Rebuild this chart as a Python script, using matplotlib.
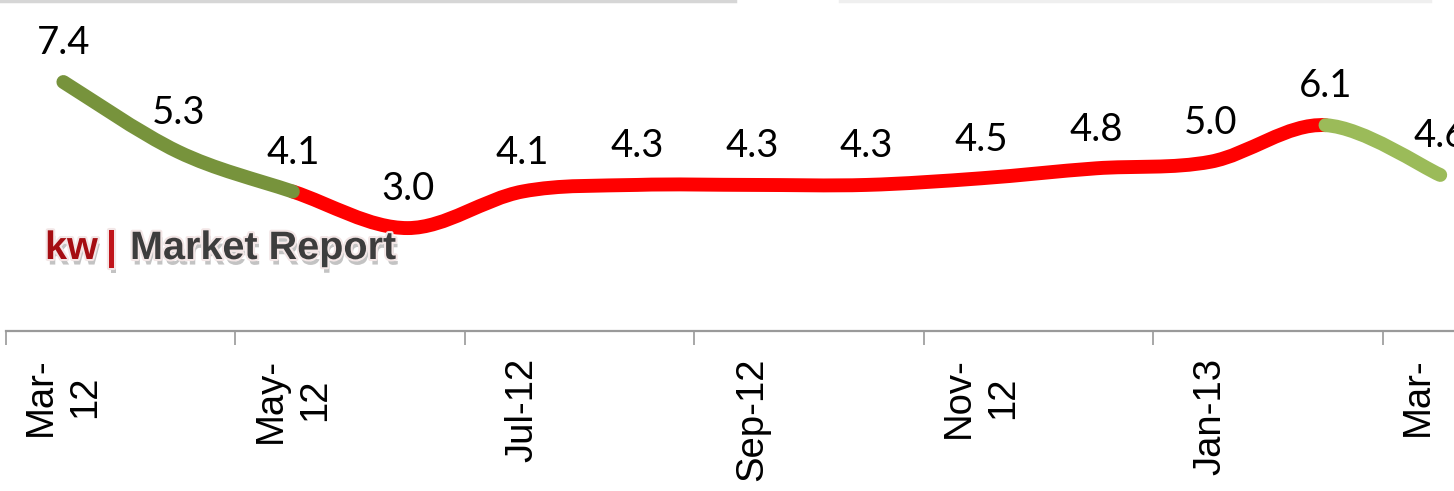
import matplotlib
matplotlib.use("Agg")
import matplotlib.pyplot as plt
from matplotlib.path import Path
from matplotlib.patches import PathPatch
from matplotlib.lines import Line2D
from matplotlib.transforms import Bbox
import matplotlib.patheffects as pe

# ---- data ----
months = ["Mar-12", "Apr-12", "May-12", "Jun-12", "Jul-12", "Aug-12", "Sep-12",
          "Oct-12", "Nov-12", "Dec-12", "Jan-13", "Feb-13", "Mar-13"]
values = [7.4, 5.3, 4.1, 3.0, 4.1, 4.3, 4.3, 4.3, 4.5, 4.8, 5.0, 6.1, 4.6]
tick_labels = ["Mar-\n12", "May-\n12", "Jul-12", "Sep-12", "Nov-\n12", "Jan-13", "Mar-\n13"]
# segments: (start index, end index, colour)
segments = [(2, 11, "#FF0000"), (0, 2, "#77933C"), (11, 12, "#9BBB59")]

W, H = 1454, 491
fig = plt.figure(figsize=(W / 100, H / 100), dpi=100)
left = 6 / W
ax = fig.add_axes([left, (H - 331) / H, 1 - left, 331 / H])
ax.set_xlim(-0.5, 12.12)
ax.set_ylim(-0.1, 9.87)

x = list(range(len(values)))
y = values
n = len(x)


def smooth_path(i0, i1):
    verts = [(x[i0], y[i0])]
    codes = [Path.MOVETO]
    for i in range(i0, i1):
        p0 = (x[max(i - 1, 0)], y[max(i - 1, 0)])
        p1 = (x[i], y[i])
        p2 = (x[i + 1], y[i + 1])
        p3 = (x[min(i + 2, n - 1)], y[min(i + 2, n - 1)])
        c1 = (p1[0] + (p2[0] - p0[0]) / 6, p1[1] + (p2[1] - p0[1]) / 6)
        c2 = (p2[0] - (p3[0] - p1[0]) / 6, p2[1] - (p3[1] - p1[1]) / 6)
        verts += [c1, c2, p2]
        codes += [Path.CURVE4] * 3
    return Path(verts, codes)


for i0, i1, col in segments:
    patch = PathPatch(smooth_path(i0, i1), fill=False, edgecolor=col, lw=10,
                      capstyle="round", joinstyle="round", clip_on=False)
    ax.add_patch(patch)

# data labels
for xi, v in zip(x, values):
    ax.annotate(f"{v:.1f}", (xi, v), xytext=(0, 20), textcoords="offset points",
                ha="center", va="baseline", fontsize=27.5, family="Lato",
                color="black", annotation_clip=False)

# axes styling
for s in ["top", "right", "left"]:
    ax.spines[s].set_visible(False)
ax.spines["bottom"].set_color("#9a9a9a")
ax.spines["bottom"].set_linewidth(1.6)
ax.set_yticks([])
ax.set_xticks(x[::2])
ax.set_xticklabels(tick_labels, rotation=90, fontsize=27.5, family="Liberation Sans",
                   va="top", ha="center", multialignment="center", linespacing=1.3)
ax.tick_params(axis="x", which="major", length=0, pad=19)
ax.set_xticks([i - 0.5 for i in x[::2]], minor=True)
ax.tick_params(axis="x", which="minor", length=10, width=1.3, color="#a0a0a0",
               direction="out")

# the last tick label is cut at the chart-area edge, as in the source image
last = ax.get_xticklabels()[-1]
last.set_clip_box(Bbox([[0, 0], [1440, H]]))
last.set_clip_on(True)

# watermark
by = 1 - 259 / H
effects = [pe.SimplePatchShadow(offset=(1.5, -4), shadow_rgbFace="#7a7a7a", alpha=0.45),
           pe.Stroke(linewidth=3, foreground="#f3e6e6"), pe.Normal()]
fig.text(45 / W, by, "kw", fontsize=28.5, fontweight="bold", family="Liberation Sans",
         color="#A50D12", path_effects=effects, va="baseline")
fig.text(106 / W, by, "|", fontsize=28.5, fontweight="bold", family="Liberation Sans",
         color="#C0141A", path_effects=effects, va="baseline")
fig.text(130 / W, by, "Market Report", fontsize=28.5, fontweight="bold",
         family="Liberation Sans", color="#3d3d3d", path_effects=effects, va="baseline")

# faint top shadow lines
fig.add_artist(Line2D([0, 735 / W], [1 - 1 / H, 1 - 1 / H], transform=fig.transFigure,
                      color="#d6d6d6", lw=2.5))
fig.add_artist(Line2D([840 / W, 1430 / W], [1 - 1 / H, 1 - 1 / H], transform=fig.transFigure,
                      color="#efefef", lw=2.5))

fig.savefig("out.png", dpi=100)
